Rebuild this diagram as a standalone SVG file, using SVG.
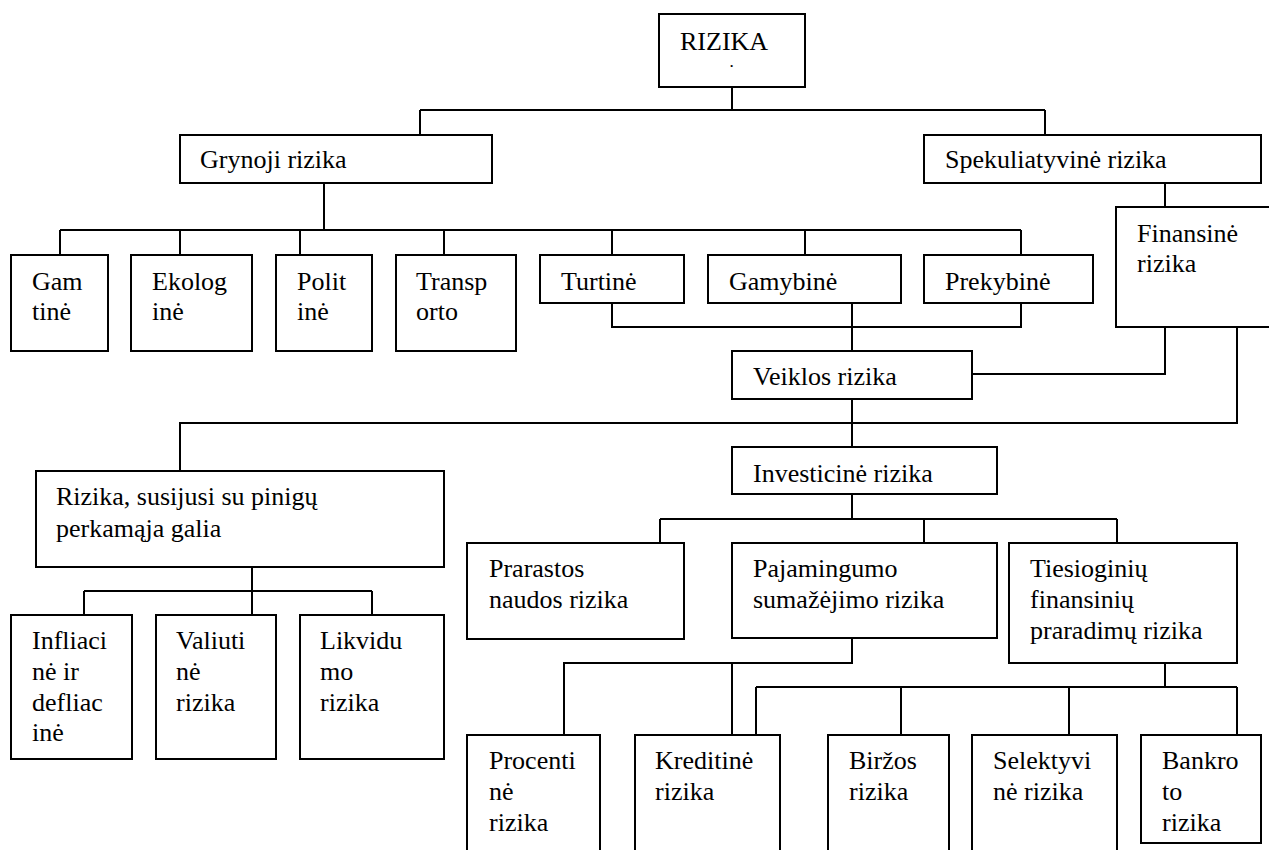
<svg xmlns="http://www.w3.org/2000/svg" width="1269" height="850" viewBox="0 0 1269 850">
<style>
rect{fill:#fff;stroke:#000;stroke-width:2}
#connectors path{fill:none;stroke:#000;stroke-width:2}
text{font-family:"Liberation Serif","Times New Roman",serif;font-size:26px;fill:#000}
text.dot{font-size:13px;font-weight:bold}
</style>
<rect x="0" y="0" width="1269" height="850" style="stroke:none"/>
<g id="connectors">
<path d="M732,87 V110 M420,110 H1045 M420,110 V135 M1045,110 V135"/>
<path d="M324,183 V230 M60,230 H1021 M60,230 V255 M180,230 V255 M300,230 V255 M444,230 V255 M612,230 V255 M805,230 V255 M1021,230 V255"/>
<path d="M1165,183 V207"/>
<path d="M612,303 V327 H1021 V303 M852,303 V351"/>
<path d="M1165,327 V374 H972"/>
<path d="M1237,327 V423 H180 V471"/>
<path d="M852,399 V447"/>
<path d="M852,494 V519 M660,519 H1117 M660,519 V543 M924,519 V543 M1117,519 V543"/>
<path d="M252,567 V615 M84,591 H372 M84,591 V615 M372,591 V615"/>
<path d="M852,638 V663 H564 V735 M732,663 V735"/>
<path d="M1165,663 V687 M756,687 H1237 M756,687 V735 M901,687 V735 M1069,687 V735 M1237,687 V735"/>
</g>
<g id="rizika"><rect x="659" y="14" width="146" height="73"/><text x="680" y="50">RIZIKA</text><text class="dot" x="730" y="67">.</text></g>
<g id="grynoji"><rect x="180" y="135" width="312" height="48"/><text x="200" y="168">Grynoji rizika</text></g>
<g id="spekuliatyvine"><rect x="924" y="135" width="337" height="48"/><text x="945" y="168">Spekuliatyvinė rizika</text></g>
<g id="finansine"><rect x="1116" y="207" width="156" height="120"/><text x="1137" y="242">Finansinė</text><text x="1137" y="272">rizika</text></g>
<g id="gamtine"><rect x="11" y="255" width="97" height="96"/><text x="32" y="290">Gam</text><text x="32" y="320">tinė</text></g>
<g id="ekologine"><rect x="131" y="255" width="121" height="96"/><text x="152" y="290">Ekolog</text><text x="152" y="320">inė</text></g>
<g id="politine"><rect x="276" y="255" width="96" height="96"/><text x="297" y="290">Polit</text><text x="297" y="320">inė</text></g>
<g id="transporto"><rect x="396" y="255" width="120" height="96"/><text x="416" y="290">Transp</text><text x="416" y="320">orto</text></g>
<g id="turtine"><rect x="540" y="255" width="144" height="48"/><text x="561" y="290">Turtinė</text></g>
<g id="gamybine"><rect x="708" y="255" width="193" height="48"/><text x="729" y="290">Gamybinė</text></g>
<g id="prekybine"><rect x="924" y="255" width="169" height="48"/><text x="945" y="290">Prekybinė</text></g>
<g id="veiklos"><rect x="732" y="351" width="240" height="48"/><text x="753" y="385">Veiklos rizika</text></g>
<g id="investicine"><rect x="732" y="447" width="265" height="47"/><text x="753" y="482">Investicinė rizika</text></g>
<g id="pinigu"><rect x="36" y="471" width="408" height="96"/><text x="56" y="505">Rizika, susijusi su pinigų</text><text x="56" y="537">perkamąja galia</text></g>
<g id="prarastos"><rect x="467" y="543" width="217" height="96"/><text x="489" y="577">Prarastos</text><text x="489" y="608">naudos rizika</text></g>
<g id="pajamingumo"><rect x="732" y="543" width="265" height="95"/><text x="753" y="577">Pajamingumo</text><text x="753" y="608">sumažėjimo rizika</text></g>
<g id="tiesioginiu"><rect x="1009" y="543" width="228" height="120"/><text x="1030" y="577">Tiesioginių</text><text x="1030" y="608">finansinių</text><text x="1030" y="639">praradimų rizika</text></g>
<g id="infliacine"><rect x="11" y="615" width="121" height="144"/><text x="32" y="649">Infliaci</text><text x="32" y="680">nė ir</text><text x="32" y="711">defliac</text><text x="32" y="741">inė</text></g>
<g id="valiutine"><rect x="156" y="615" width="120" height="144"/><text x="176" y="649">Valiuti</text><text x="176" y="680">nė</text><text x="176" y="711">rizika</text></g>
<g id="likvidumo"><rect x="300" y="615" width="144" height="144"/><text x="320" y="649">Likvidu</text><text x="320" y="680">mo</text><text x="320" y="711">rizika</text></g>
<g id="procentine"><rect x="467" y="735" width="133" height="120"/><text x="489" y="769">Procenti</text><text x="489" y="800">nė</text><text x="489" y="831">rizika</text></g>
<g id="kreditine"><rect x="635" y="735" width="145" height="120"/><text x="655" y="769">Kreditinė</text><text x="655" y="800">rizika</text></g>
<g id="birzos"><rect x="828" y="735" width="121" height="120"/><text x="849" y="769">Biržos</text><text x="849" y="800">rizika</text></g>
<g id="selektyvine"><rect x="972" y="735" width="145" height="120"/><text x="993" y="769">Selektyvi</text><text x="993" y="800">nė rizika</text></g>
<g id="bankroto"><rect x="1141" y="735" width="120" height="108"/><text x="1162" y="769">Bankro</text><text x="1162" y="800">to</text><text x="1162" y="831">rizika</text></g>
</svg>
